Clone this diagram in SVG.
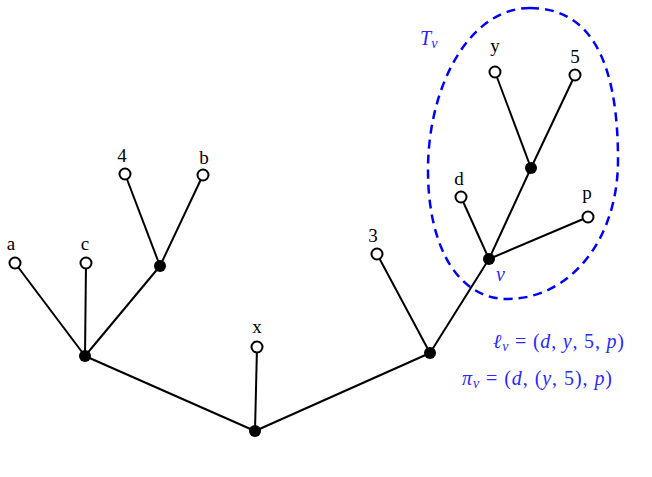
<svg xmlns="http://www.w3.org/2000/svg" width="652" height="477" viewBox="0 0 652 477">
<style>
.edge{stroke:#000;stroke-width:2;fill:none}
.leaf{fill:#fff;stroke:#000;stroke-width:2}
.inner{fill:#000;stroke:none}
.lbl{font-family:"Liberation Serif","Times New Roman",serif;font-size:19px;fill:#000;text-anchor:middle}
.math{font-family:"Liberation Serif","Times New Roman",serif;font-size:20px;fill:#2828ff}
.it{font-style:italic}
.sub{font-size:14px;font-style:italic}
</style>
<rect width="652" height="477" fill="#fff"/>
<path d="M 530 8 C 590 8 618 60 618 160 C 618 240 570 299 507 299 C 460 299 428 250 428 170 C 428 85 470 8 530 8 Z" fill="none" stroke="#0000ff" stroke-width="2.5" stroke-dasharray="9,6"/>
<g id="edges">
<line class="edge" x1="255" y1="431" x2="85" y2="356"/>
<line class="edge" x1="255" y1="431" x2="257" y2="347"/>
<line class="edge" x1="255" y1="431" x2="430" y2="353"/>
<line class="edge" x1="85" y1="356" x2="15" y2="263"/>
<line class="edge" x1="85" y1="356" x2="86" y2="263"/>
<line class="edge" x1="85" y1="356" x2="160" y2="266"/>
<line class="edge" x1="160" y1="266" x2="125" y2="174"/>
<line class="edge" x1="160" y1="266" x2="203" y2="175"/>
<line class="edge" x1="430" y1="353" x2="377" y2="254"/>
<line class="edge" x1="430" y1="353" x2="489" y2="259"/>
<line class="edge" x1="489" y1="259" x2="461" y2="197"/>
<line class="edge" x1="489" y1="259" x2="531" y2="168"/>
<line class="edge" x1="489" y1="259" x2="588" y2="217"/>
<line class="edge" x1="531" y1="168" x2="495" y2="72"/>
<line class="edge" x1="531" y1="168" x2="575" y2="75"/>
</g>
<g id="root"><circle class="inner" cx="255" cy="431" r="6"/></g>
<g id="n_left"><circle class="inner" cx="85" cy="356" r="6"/></g>
<g id="n_mid"><circle class="inner" cx="160" cy="266" r="6"/></g>
<g id="n_right"><circle class="inner" cx="430" cy="353" r="6"/></g>
<g id="n_v"><circle class="inner" cx="489" cy="259" r="6"/>
<text class="math it" x="496" y="281" font-size="19">v</text></g>
<g id="n_y5"><circle class="inner" cx="531" cy="168" r="6"/></g>
<g id="leaf_a"><circle class="leaf" cx="15" cy="263" r="5.5"/><text class="lbl" x="11" y="250">a</text></g>
<g id="leaf_c"><circle class="leaf" cx="86" cy="263" r="5.5"/><text class="lbl" x="85" y="250">c</text></g>
<g id="leaf_4"><circle class="leaf" cx="125" cy="174" r="5.5"/><text class="lbl" x="122" y="162">4</text></g>
<g id="leaf_b"><circle class="leaf" cx="203" cy="175" r="5.5"/><text class="lbl" x="204" y="164">b</text></g>
<g id="leaf_x"><circle class="leaf" cx="257" cy="347" r="5.5"/><text class="lbl" x="257" y="333">x</text></g>
<g id="leaf_3"><circle class="leaf" cx="377" cy="254" r="5.5"/><text class="lbl" x="373" y="242">3</text></g>
<g id="leaf_d"><circle class="leaf" cx="461" cy="197" r="5.5"/><text class="lbl" x="459" y="185">d</text></g>
<g id="leaf_p"><circle class="leaf" cx="588" cy="217" r="5.5"/><text class="lbl" x="587" y="199">p</text></g>
<g id="leaf_y"><circle class="leaf" cx="495" cy="72" r="5.5"/><text class="lbl" x="495" y="52">y</text></g>
<g id="leaf_5"><circle class="leaf" cx="575" cy="75" r="5.5"/><text class="lbl" x="575" y="63">5</text></g>
<g id="labels">
<text class="math" x="420" y="45"><tspan class="it">T</tspan><tspan class="sub" dy="3">v</tspan></text>
<text class="math" x="493" y="348" textLength="131" lengthAdjust="spacing"><tspan class="it">ℓ</tspan><tspan class="sub" dy="3">v</tspan><tspan dy="-3"> = (</tspan><tspan class="it">d</tspan>, <tspan class="it">y</tspan>, 5, <tspan class="it">p</tspan>)</text>
<text class="math" x="462" y="385" textLength="150" lengthAdjust="spacing"><tspan class="it">π</tspan><tspan class="sub" dy="3">v</tspan><tspan dy="-3"> = (</tspan><tspan class="it">d</tspan>, (<tspan class="it">y</tspan>, 5), <tspan class="it">p</tspan>)</text>
</g>
</svg>
